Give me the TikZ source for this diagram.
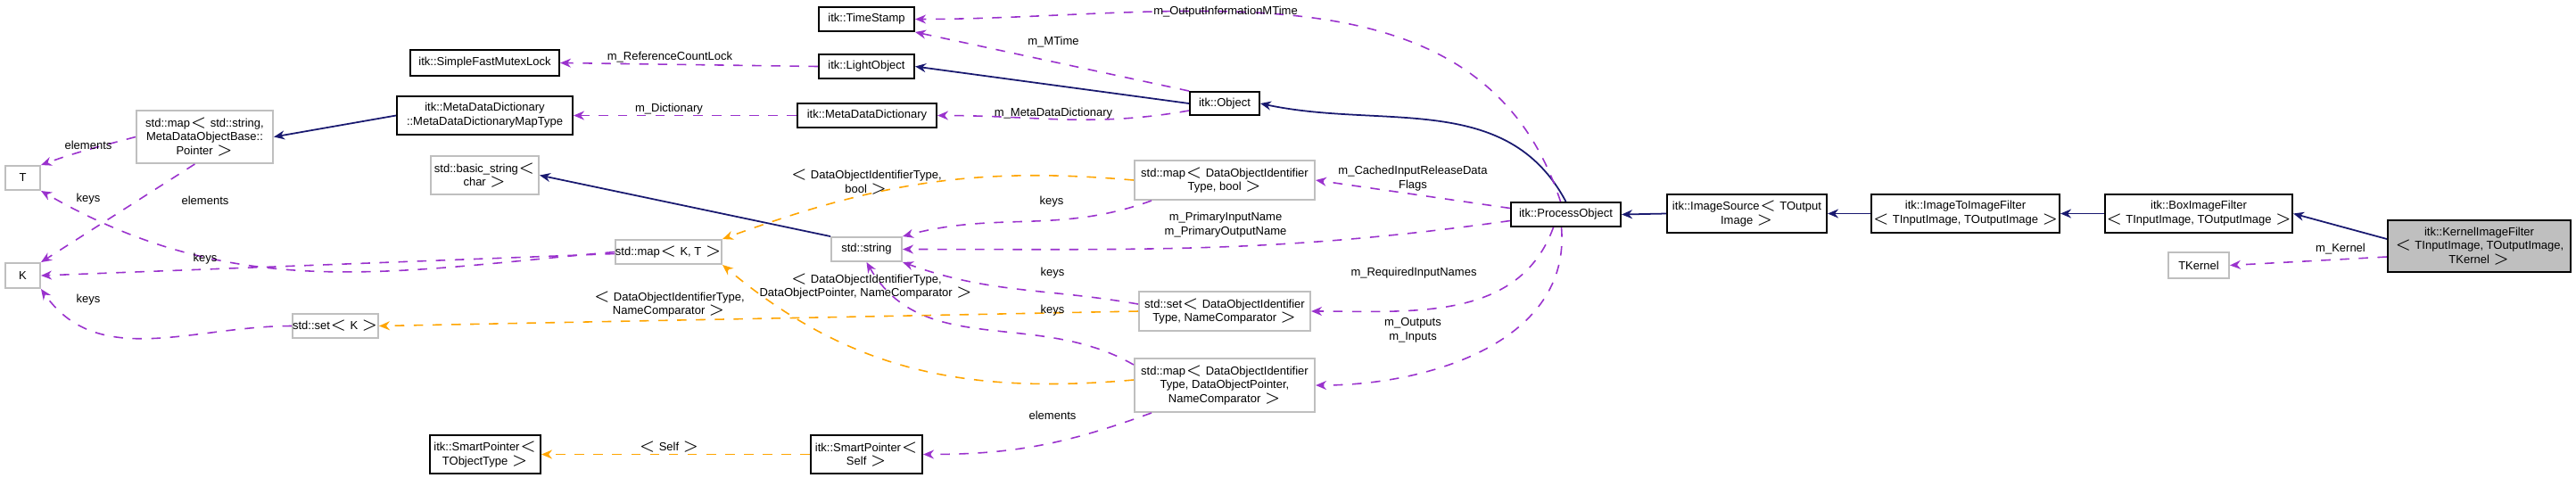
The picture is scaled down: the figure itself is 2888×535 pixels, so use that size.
\documentclass[tikz,border=0pt]{standalone}
\usepackage{fontspec}
\setmainfont{Liberation Sans}
\usetikzlibrary{arrows.meta}
\definecolor{inhcol}{HTML}{191970}
\definecolor{usecol}{HTML}{9A32CD}
\definecolor{tplcol}{HTML}{FFA500}
\definecolor{undoc}{HTML}{BFBFBF}

\tikzset{
  cls/.style={draw=black, line width=0.55pt, align=center, inner sep=0pt, font=\fontsize{3.7}{4.5}\selectfont},
  ext/.style={cls, draw=undoc},
  lbl/.style={align=center, inner sep=0pt, font=\fontsize{3.7}{4.5}\selectfont},
  inh/.style={draw=inhcol, line width=0.5pt, -{Stealth[length=1.2mm,width=1mm]}},
  use/.style={draw=usecol, line width=0.45pt, dashed, -{Stealth[length=1.2mm,width=1mm]}},
  tpl/.style={draw=tplcol, line width=0.45pt, dashed, -{Stealth[length=1.2mm,width=1mm]}},
}

\begin{document}
\begin{tikzpicture}[x=0.01cm, y=-0.01cm]
\useasboundingbox (0,0) rectangle (2888,535);

% left group
\node[cls, minimum width=1.67cm, minimum height=0.29cm] (mutex) at (543.5,70.5) {itk::SimpleFastMutexLock};
\node[cls, minimum width=1.97cm, minimum height=0.43cm] (dictmap) at (543.5,129.5) {itk::MetaDataDictionary\\::MetaDataDictionaryMapType};
\node[ext, minimum width=1.53cm, minimum height=0.59cm] (stdmapstr) at (229.5,153.5) {std::map$<$ std::string,\\MetaDataObjectBase::\\Pointer $>$};
\node[ext, minimum width=0.39cm, minimum height=0.27cm] (tT) at (25.5,199.5) {T};
\node[ext, minimum width=0.39cm, minimum height=0.28cm] (tK) at (25.5,309) {K};
\node[ext, minimum width=1.21cm, minimum height=0.43cm] (basicstr) at (543.5,196.5) {std::basic\_string$<$\\char $>$};
\node[ext, minimum width=1.13cm, minimum height=0.27cm] (mapKT) at (749.5,282.5) {std::map$<$ K, T $>$};
\node[ext, minimum width=0.90cm, minimum height=0.27cm] (setK) at (376,365.5) {std::set$<$ K $>$};
\node[cls, minimum width=1.24cm, minimum height=0.43cm] (smartT) at (544,509.5) {itk::SmartPointer$<$\\TObjectType $>$};

% middle group
\node[cls, minimum width=1.07cm, minimum height=0.27cm] (stamp) at (971.5,21.5) {itk::TimeStamp};
\node[cls, minimum width=1.07cm, minimum height=0.27cm] (light) at (971.5,74.5) {itk::LightObject};
\node[cls, minimum width=1.56cm, minimum height=0.27cm] (dict) at (972,129.5) {itk::MetaDataDictionary};
\node[cls, minimum width=0.78cm, minimum height=0.26cm] (object) at (1373,116) {itk::Object};
\node[ext, minimum width=2.02cm, minimum height=0.44cm] (mapbool) at (1373,202) {std::map$<$ DataObjectIdentifier\\Type, bool $>$};
\node[ext, minimum width=0.79cm, minimum height=0.27cm] (string) at (971.5,279.5) {std::string};
\node[ext, minimum width=1.92cm, minimum height=0.44cm] (setdoi) at (1373,349) {std::set$<$ DataObjectIdentifier\\Type, NameComparator $>$};
\node[ext, minimum width=2.02cm, minimum height=0.60cm] (mapdop) at (1373,432) {std::map$<$ DataObjectIdentifier\\Type, DataObjectPointer,\\NameComparator $>$};
\node[cls, minimum width=1.25cm, minimum height=0.43cm] (smartself) at (971.5,509.5) {itk::SmartPointer$<$\\Self $>$};

% filter chain
\node[cls, minimum width=1.23cm, minimum height=0.27cm] (process) at (1755.5,240.5) {itk::ProcessObject};
\node[cls, minimum width=1.79cm, minimum height=0.43cm] (source) at (1958.5,239.5) {itk::ImageSource$<$ TOutput\\Image $>$};
\node[cls, minimum width=2.11cm, minimum height=0.43cm] (i2i) at (2203.5,239.5) {itk::ImageToImageFilter\\$<$ TInputImage, TOutputImage $>$};
\node[cls, minimum width=2.10cm, minimum height=0.43cm] (boxf) at (2465,239.5) {itk::BoxImageFilter\\$<$ TInputImage, TOutputImage $>$};
\node[cls, fill=undoc, minimum width=2.05cm, minimum height=0.58cm] (kernel) at (2779.5,276) {itk::KernelImageFilter\\$<$ TInputImage, TOutputImage,\\TKernel $>$};
\node[ext, minimum width=0.68cm, minimum height=0.29cm] (tkernel) at (2465,297.5) {TKernel};

% inheritance
\draw[inh] (dictmap.west) -- (stdmapstr.east);
\draw[inh] (object.west) -- (light.east);
\draw[inh] (process.north) to[out=118, in=-12] (object.east);
\draw[inh] (string.north west) -- (basicstr.east);
\draw[inh] (source.west) -- (process.east);
\draw[inh] (i2i.west) -- (source.east);
\draw[inh] (boxf.west) -- (i2i.east);
\draw[inh] (kernel.west) ++(0,-8) -- (boxf.east);

% usage
\draw[use] (light.west) -- (mutex.east);
\draw[use] (dict.west) -- (dictmap.east);
\draw[use] (stdmapstr.west) to[out=195, in=20] (tT.north east);
\draw[use] (stdmapstr.250) -- (tK.north east);
\draw[use] (mapKT.west) to[out=185, in=-30] (tT.south east);
\draw[use] (mapKT.west) ++(0,2) -- (tK.east);
\draw[use] (setK.west) to[out=180, in=-55] (tK.south east);
\draw[use] (object.north west) -- (stamp.south east);
\draw[use] (object.west) ++(0,8) to[out=190, in=0] (dict.east);
\draw[use] (process.north) ++(-6,0) to[out=108, in=0] (stamp.east);
\draw[use] (process.west) ++(0,-7) -- (mapbool.east);
\draw[use] (process.west) ++(0,7) to[out=188, in=0] (string.east);
\draw[use] (process.south) ++(-14,0) to[out=-110, in=0] (setdoi.east);
\draw[use] (process.south) ++(-5,0) to[out=-85, in=0] (mapdop.east);
\draw[use] (mapbool.south west) ++(20,0) to[out=200, in=15] (string.north east);
\draw[use] (setdoi.west) ++(0,-8) to[out=170, in=-20] (string.south east);
\draw[use] (mapdop.north west) ++(0,8) to[out=150, in=-60] (string.south);
\draw[use] (mapdop.south west) ++(20,0) to[out=200, in=0] (smartself.east);
\draw[use] (kernel.west) ++(0,12) -- (tkernel.east);

% template instances
\draw[tpl] (smartself.west) -- (smartT.east);
\draw[tpl] (mapbool.west) to[out=175, in=20] (mapKT.north east);
\draw[tpl] (mapdop.west) ++(0,-6) to[out=185, in=-40] (mapKT.south east);
\draw[tpl] (setdoi.west) -- (setK.east);

% edge labels
\node[lbl] (lmutex) at (751,64) {m\_ReferenceCountLock};
\node[lbl] (ldict) at (750,122) {m\_Dictionary};
\node[lbl] (lelemT) at (99,163) {elements};
\node[lbl] (lkeysT) at (99,223) {keys};
\node[lbl] (lelemKT) at (230,225) {elements};
\node[lbl] (lkeysK) at (230,290) {keys};
\node[lbl] (lkeysset) at (99,336) {keys};
\node[lbl] (lsettpl) at (750,341) {$<$ DataObjectIdentifierType,\\NameComparator $>$};
\node[lbl] (lself) at (750,501) {$<$ Self $>$};
\node[lbl] (lomtime) at (1374,13) {m\_OutputInformationMTime};
\node[lbl] (lmtime) at (1181,47) {m\_MTime};
\node[lbl] (lmdd) at (1181,127) {m\_MetaDataDictionary};
\node[lbl] (lbooltpl) at (971,204) {$<$ DataObjectIdentifierType,\\bool $>$};
\node[lbl] (lkeys1) at (1179,226) {keys};
\node[lbl] (lcached) at (1584,200) {m\_CachedInputReleaseData\\Flags};
\node[lbl] (lprimary) at (1374,252) {m\_PrimaryInputName\\m\_PrimaryOutputName};
\node[lbl] (ldoptpl) at (971,321) {$<$ DataObjectIdentifierType,\\DataObjectPointer, NameComparator $>$};
\node[lbl] (lkeys2) at (1180,306) {keys};
\node[lbl] (lkeys3) at (1180,348) {keys};
\node[lbl] (lrequired) at (1585,306) {m\_RequiredInputNames};
\node[lbl] (linout) at (1584,370) {m\_Outputs\\m\_Inputs};
\node[lbl] (lelems) at (1180,466) {elements};
\node[lbl] (lkernel) at (2624,279) {m\_Kernel};
\end{tikzpicture}
\end{document}
